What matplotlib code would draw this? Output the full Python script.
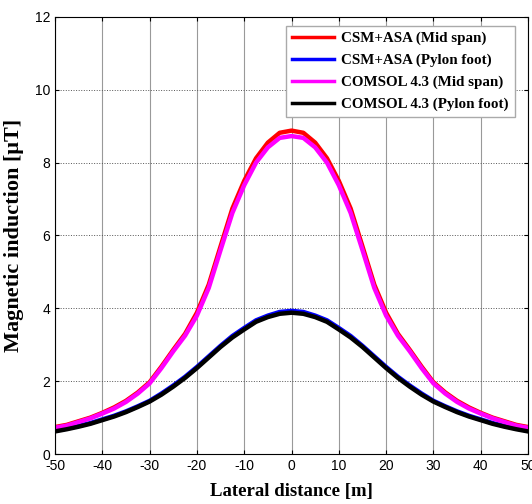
import numpy as np
import matplotlib.pyplot as plt

plt.rcParams['axes.unicode_minus'] = False

# lateral distance [m]
x = np.arange(-50, 50.1, 2.5)

# magnetic induction [uT]
csm_mid = [0.74, 0.80, 0.90, 1.00, 1.13, 1.28, 1.46, 1.69, 1.97, 2.40, 2.86, 3.30, 3.88, 4.65, 5.70, 6.74, 7.50, 8.12, 8.55, 8.82, 8.88,
           8.82, 8.55, 8.12, 7.50, 6.74, 5.70, 4.65, 3.88, 3.30, 2.86, 2.40, 1.97, 1.69, 1.46, 1.28, 1.13, 1.00, 0.90, 0.80, 0.74]
comsol_mid = [0.72, 0.78, 0.88, 0.98, 1.11, 1.25, 1.43, 1.66, 1.94, 2.36, 2.82, 3.25, 3.80, 4.56, 5.60, 6.62, 7.38, 8.00, 8.42, 8.68, 8.73,
              8.68, 8.42, 8.00, 7.38, 6.62, 5.60, 4.56, 3.80, 3.25, 2.82, 2.36, 1.94, 1.66, 1.43, 1.25, 1.11, 0.98, 0.88, 0.78, 0.72]
csm_pylon = [0.64, 0.70, 0.77, 0.85, 0.95, 1.05, 1.17, 1.31, 1.46, 1.66, 1.88, 2.12, 2.39, 2.68, 2.97, 3.24, 3.46, 3.67, 3.80, 3.90, 3.93,
             3.90, 3.80, 3.67, 3.46, 3.24, 2.97, 2.68, 2.39, 2.12, 1.88, 1.66, 1.46, 1.31, 1.17, 1.05, 0.95, 0.85, 0.77, 0.70, 0.64]
comsol_pylon = [0.62, 0.68, 0.75, 0.83, 0.93, 1.03, 1.15, 1.29, 1.44, 1.63, 1.85, 2.09, 2.36, 2.65, 2.94, 3.20, 3.42, 3.63, 3.76, 3.85, 3.88,
                3.85, 3.76, 3.63, 3.42, 3.20, 2.94, 2.65, 2.36, 2.09, 1.85, 1.63, 1.44, 1.29, 1.15, 1.03, 0.93, 0.83, 0.75, 0.68, 0.62]

fig = plt.figure(figsize=(5.32, 5.04), dpi=100)
ax = fig.add_axes([0.1034, 0.0992, 0.8891, 0.8671])

ax.plot(x, csm_mid, color='#ff0000', lw=3.2, label='CSM+ASA (Mid span)')
ax.plot(x, csm_pylon, color='#0000ff', lw=3.2, label='CSM+ASA (Pylon foot)')
ax.plot(x, comsol_mid, color='#ff00ff', lw=3.2, label='COMSOL 4.3 (Mid span)')
ax.plot(x, comsol_pylon, color='#000000', lw=3.2, label='COMSOL 4.3 (Pylon foot)')

ax.set_xlim(-50, 50)
ax.set_ylim(0, 12)
ax.set_xticks(np.arange(-50, 51, 10))
ax.set_yticks(np.arange(0, 13, 2))
ax.tick_params(direction='in', top=True, right=True, length=3, labelsize=10)
for lab in ax.get_xticklabels() + ax.get_yticklabels():
    lab.set_family('Liberation Sans')
ax.xaxis.grid(True, color='#999999', lw=0.8, ls='-')
ax.yaxis.grid(True, color='#555555', lw=0.7, ls=':')
ax.set_axisbelow(True)

ax.set_xlabel('Lateral distance [m]', family='Liberation Serif', fontweight='bold', fontsize=13.5, labelpad=7)
ax.set_ylabel('Magnetic induction [\u03bcT]', family='Liberation Serif', fontweight='bold', fontsize=16, labelpad=8)

leg = ax.legend(loc='upper right', bbox_to_anchor=(0.988, 0.997), fancybox=False, edgecolor='#aaaaaa',
                framealpha=1, handlelength=2.8, labelspacing=0.55, borderpad=0.4, handletextpad=0.5,
                prop={'family': 'Liberation Serif', 'weight': 'bold', 'size': 10.8})
for h in leg.get_lines():
    h.set_linewidth(2.5)

fig.savefig('out.png', dpi=100)
